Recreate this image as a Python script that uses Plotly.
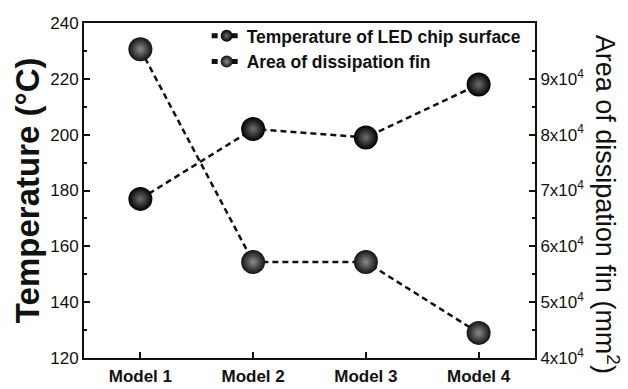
import plotly.graph_objects as go

# Data
models = ["Model 1", "Model 2", "Model 3", "Model 4"]
temperature = [177, 202, 199, 218]          # °C
fin_area = [95300, 57200, 57200, 44500]     # mm^2
area_ticks = [40000, 50000, 60000, 70000, 80000, 90000, 100000]
area_ticktext = ["4x10<sup>4</sup>", "5x10<sup>4</sup>", "6x10<sup>4</sup>",
                 "7x10<sup>4</sup>", "8x10<sup>4</sup>", "9x10<sup>4</sup>", ""]

FONT = "Liberation Sans, Arial, sans-serif"

fig = go.Figure()

fig.add_trace(go.Scatter(
    x=models, y=temperature, name="Temperature of LED chip surface",
    mode="lines+markers",
    line=dict(color="#111", width=2.5, dash="6px,4px"),
    marker=dict(size=24, color="#000000",
                gradient=dict(type="radial", color="#6e6e6e"),
                line=dict(width=0)),
    yaxis="y",
))

fig.add_trace(go.Scatter(
    x=models, y=fin_area, name="Area of dissipation fin",
    mode="lines+markers",
    line=dict(color="#111", width=2.5, dash="6px,4px"),
    marker=dict(size=24, color="#111111",
                gradient=dict(type="radial", color="#8c8c8c"),
                line=dict(width=0)),
    yaxis="y2",
))

axis_common = dict(showline=True, linecolor="#111", linewidth=2,
                   ticks="inside", tickcolor="#111", tickwidth=1.5,
                   showgrid=False, zeroline=False, automargin=False)

fig.update_layout(
    width=628, height=389,
    margin=dict(l=84, r=93, t=23, b=31),
    paper_bgcolor="white", plot_bgcolor="white",
    font=dict(family=FONT, color="#111"),
    showlegend=True,
    legend=dict(x=0.272, y=1.015, xanchor="left", yanchor="top",
                bgcolor="rgba(0,0,0,0)", borderwidth=0,
                font=dict(size=17.5, family=FONT, color="#111", weight="bold"),
                itemsizing="constant", tracegroupgap=0),
    xaxis=dict(**axis_common, type="category", range=[-0.5, 3.5],
               mirror=True, ticklen=6, ticklabelstandoff=2,
               tickfont=dict(size=17, family=FONT, weight="bold")),
    yaxis=dict(**axis_common, range=[120, 240], dtick=20, ticklen=6,
               tickfont=dict(size=17, family=FONT),
               minor=dict(dtick=10, ticks="inside", ticklen=3,
                          tickcolor="#111", tickwidth=1.5)),
    yaxis2=dict(**axis_common, overlaying="y", side="right",
                range=[40000, 100000], tickvals=area_ticks,
                ticktext=area_ticktext, ticklen=6,
                tickfont=dict(size=17, family=FONT),
                minor=dict(dtick=5000, ticks="inside", ticklen=3,
                           tickcolor="#111", tickwidth=1.5)),
)

# Axis titles
fig.add_annotation(text="Temperature (°C)", xref="paper", yref="paper",
                   x=-0.125, y=0.5, xanchor="center", yanchor="middle",
                   textangle=-90, showarrow=False,
                   font=dict(size=33, family=FONT, weight="bold", color="#111"))
fig.add_annotation(text="Area of dissipation fin (mm<sup>2</sup>)",
                   xref="paper", yref="paper", x=1.16, y=0.46,
                   xanchor="center", yanchor="middle", textangle=90,
                   showarrow=False,
                   font=dict(size=27, family=FONT, color="#111"))

fig.write_html("out.html")
